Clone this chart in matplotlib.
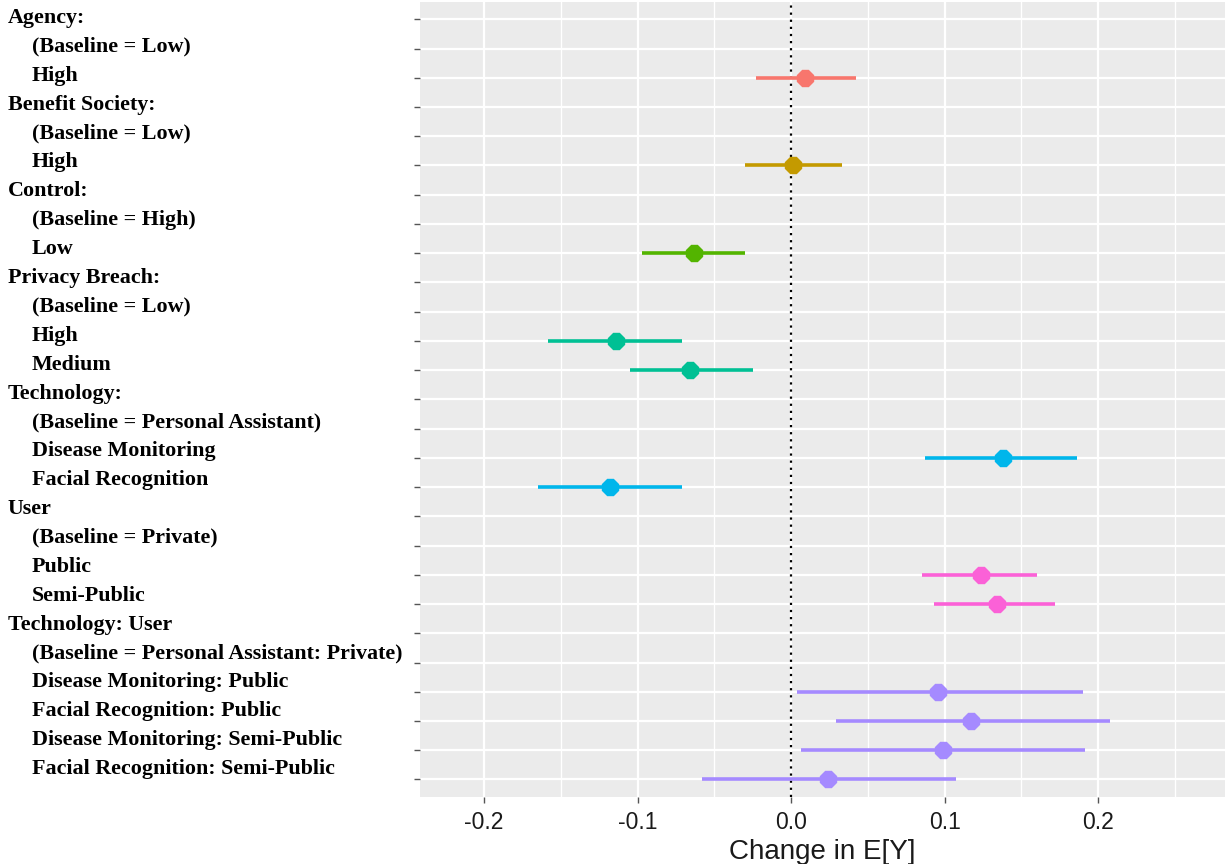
import matplotlib
matplotlib.use("Agg")
import matplotlib.pyplot as plt
import matplotlib.transforms as mtransforms
from matplotlib.ticker import MultipleLocator

# row labels, top to bottom (indent flag: 0 = group header, 1 = level)
labels = [
    "Agency:", "(Baseline = Low)", "High",
    "Benefit Society:", "(Baseline = Low)", "High",
    "Control:", "(Baseline = High)", "Low",
    "Privacy Breach:", "(Baseline = Low)", "High", "Medium",
    "Technology:", "(Baseline = Personal Assistant)", "Disease Monitoring", "Facial Recognition",
    "User", "(Baseline = Private)", "Public", "Semi-Public",
    "Technology: User", "(Baseline = Personal Assistant: Private)",
    "Disease Monitoring: Public", "Facial Recognition: Public",
    "Disease Monitoring: Semi-Public", "Facial Recognition: Semi-Public",
]
indent = [0, 1, 1, 0, 1, 1, 0, 1, 1, 0, 1, 1, 1, 0, 1, 1, 1, 0, 1, 1, 1, 0, 1, 1, 1, 1, 1]

# estimates (row label index -> value)
est_rows = [2, 5, 8, 11, 12, 15, 16, 19, 20, 23, 24, 25, 26]
estimate = [0.009, 0.001, -0.063, -0.114, -0.066, 0.138, -0.118, 0.124, 0.134,
            0.096, 0.117, 0.099, 0.024]
lower = [-0.023, -0.030, -0.097, -0.158, -0.105, 0.087, -0.165, 0.085, 0.093,
         0.004, 0.029, 0.0065, -0.058]
upper = [0.042, 0.033, -0.030, -0.071, -0.025, 0.186, -0.071, 0.160, 0.172,
         0.190, 0.208, 0.1915, 0.1075]
group = ["Agency", "Benefit", "Control", "Privacy", "Privacy", "Technology", "Technology",
         "User", "User", "TechUser", "TechUser", "TechUser", "TechUser"]

colors = {
    "Agency": "#F8766D",
    "Benefit": "#C49A00",
    "Control": "#53B400",
    "Privacy": "#00C094",
    "Technology": "#00B6EB",
    "User": "#FB61D7",
    "TechUser": "#A58AFF",
}

n = len(labels)

fig = plt.figure(figsize=(12.28, 8.64), dpi=100)
ax = fig.add_axes([0.342, 0.0775, 0.6556, 0.9205])
ax.set_facecolor("#EBEBEB")
for s in ax.spines.values():
    s.set_visible(False)

# y positions: first label on top
ypos = [n - i for i in range(n)]

ax.set_xlim(-0.2417, 0.2827)
ax.set_ylim(0.4, n + 0.6)
ax.xaxis.set_major_locator(MultipleLocator(0.1))
ax.xaxis.set_minor_locator(MultipleLocator(0.05))
ax.set_yticks(ypos)
ax.set_yticklabels([""] * n)
ax.grid(which="major", color="white", lw=1.6)
ax.grid(which="minor", axis="x", color="white", lw=1.0)
ax.set_axisbelow(True)
ax.tick_params(axis="y", length=4, color="#555555", width=1)
ax.tick_params(axis="x", which="major", length=4, color="#555555", width=1,
               labelsize=16.5, labelcolor="#1a1a1a", pad=6)
ax.tick_params(axis="x", which="minor", length=0)
ax.set_xticks([-0.2, -0.1, 0.0, 0.1, 0.2])
ax.set_xticklabels(["-0.2", "-0.1", "0.0", "0.1", "0.2"], family="Liberation Sans")

ax.axvline(0, color="black", lw=1.6, ls=(0, (1, 2.2)), zorder=2)

for r, e, lo, hi, g in zip(est_rows, estimate, lower, upper, group):
    y = ypos[r]
    c = colors[g]
    ax.hlines(y, lo, hi, color=c, lw=2.6, zorder=3)
    ax.plot(e, y, marker="8", ms=12.5, color=c, mec=c, zorder=4)

ax.set_xlabel("Change in E[Y]", family="Liberation Sans", fontsize=20, color="#1a1a1a",
              labelpad=4)

# row labels drawn on the left in bold serif (pasted slightly tighter than the rows)
for i, (lab, ind) in enumerate(zip(labels, indent)):
    x = 8 / 1228 if ind == 0 else 32 / 1228
    y_px = 18 + i * (769 - 18) / (n - 1)
    fig.text(x, 1 - y_px / 864, lab, ha="left", va="center",
             family="Liberation Serif", fontweight="bold", fontsize=15.8, color="black")

fig.savefig("out.png", dpi=100, facecolor="white")
